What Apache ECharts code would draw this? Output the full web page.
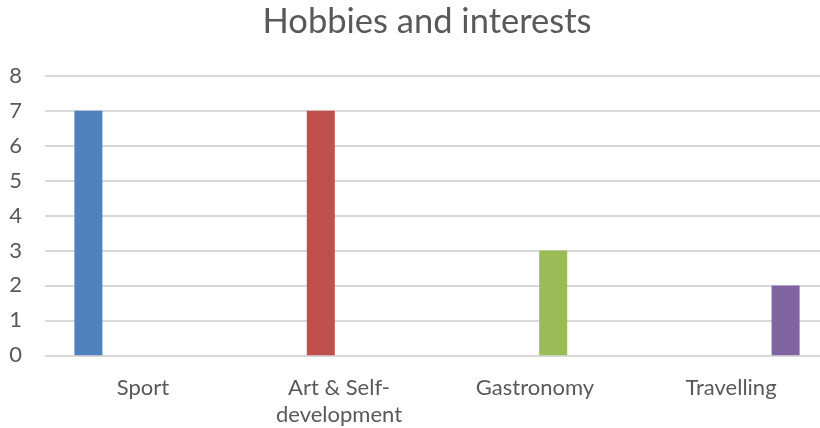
<!DOCTYPE html>
<html>
<head>
    <meta charset="utf-8" />
    <title>Hobbies and interests</title>
    <script src="https://cdn.jsdelivr.net/npm/echarts@6/dist/echarts.min.js"></script>
    <style>
        html, body { margin: 0; padding: 0; background: #fff; }
    </style>
</head>
<body>
<div id="main" style="width: 820px;height:428px;"></div>

<script type="text/javascript">
    // data
    var categories = ['Sport', 'Art & Self-\ndevelopment', 'Gastronomy', 'Travelling'];
    var sportValues = [7, null, null, null];
    var artValues = [null, 7, null, null];
    var gastronomyValues = [null, null, 3, null];
    var travellingValues = [null, null, null, 2];
    var yTicks = [0, 1, 2, 3, 4, 5, 6, 7, 8];

    var seriesNames = ['Sport', 'Art & Self-development', 'Gastronomy', 'Travelling'];
    var seriesData = [sportValues, artValues, gastronomyValues, travellingValues];
    var colors = ['#4F81BD', '#C0504D', '#9BBB59', '#8064A2'];

    var myChart = echarts.init(document.getElementById('main'));

    var textColor = '#595959';
    var fontFamily = 'Lato, "Open Sans", sans-serif';

    var option = {
        animation: false,
        color: colors,
        title: {
            text: 'Hobbies and interests',
            left: 422,
            textAlign: 'center',
            top: -1,
            textStyle: {
                color: textColor,
                fontFamily: fontFamily,
                fontWeight: 'normal',
                fontSize: 34.5
            }
        },
        grid: {
            left: 45,
            width: 784,
            top: 75.7,
            bottom: 72.7,
            containLabel: false,
            outerBoundsMode: 'none'
        },
        xAxis: {
            type: 'category',
            data: categories,
            axisTick: { show: false },
            axisLine: { show: false },
            axisLabel: {
                color: textColor,
                fontFamily: fontFamily,
                fontSize: 22,
                lineHeight: 27,
                margin: 19,
                interval: 0
            }
        },
        yAxis: {
            type: 'value',
            min: yTicks[0],
            max: yTicks[yTicks.length - 1],
            interval: 1,
            axisLine: { show: false },
            axisTick: { show: false },
            axisLabel: {
                color: textColor,
                fontFamily: fontFamily,
                fontSize: 22,
                margin: 23
            },
            splitLine: {
                lineStyle: { color: '#D9D9D9', width: 2 }
            }
        },
        series: seriesData.map(function (d, i) {
            return {
                name: seriesNames[i],
                type: 'bar',
                data: d,
                barWidth: 28,
                barGap: '30%',
                itemStyle: { color: colors[i] }
            };
        })
    };

    myChart.setOption(option);
</script>
</body>
</html>
